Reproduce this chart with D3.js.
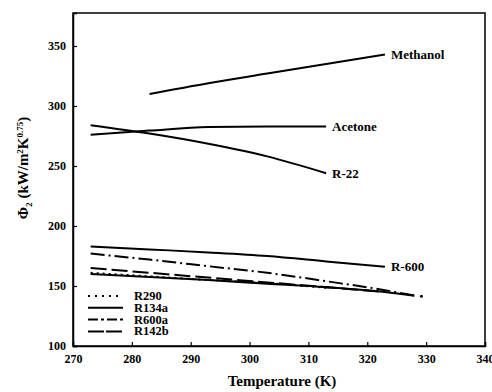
<!DOCTYPE html>
<html><head><meta charset="utf-8">
<script src="https://cdn.jsdelivr.net/npm/d3@7"></script>
<style>body{margin:0;background:#fff}</style>
</head><body><svg id="c" width="492" height="392"></svg>
<script>
const xTicks=[270,280,290,300,310,320,330,340];
const yTicks=[100,150,200,250,300,350];
const methanolT=[283,293,303,313,323];
const methanolV=[310,319,327,335,343];
const acetoneT=[273,283,293,303,313];
const acetoneV=[276,279.5,282.5,283,283];
const r22T=[273,283,293,303,313];
const r22V=[284,277,268.5,258,244];
const r600T=[273,283,293,303,313,323];
const r600V=[183,180.5,178,175,170.5,166];
const r600aT=[273,283,293,303,313,323,328];
const r600aV=[177,172,166.5,161,154,146.5,142];
const r142bT=[273,283,293,303,313,323];
const r142bV=[165,161,157,153,149,145];
const r290T=[273,283,293,303,313];
const r290V=[161,158,155,152.5,148.5];
const r134aT=[273,283,293,303,313,323,328];
const r134aV=[160,157.5,155,152,149,145,142];
const legendNames=["R290","R134a","R600a","R142b"];

const svg=d3.select("#c");
const x=d3.scaleLinear().domain([270,340]).range([73,485]);
const y=d3.scaleLinear().domain([100,377.5]).range([346,13]);
const font="'Liberation Serif','Times New Roman',serif";

svg.append("rect").attr("x",73).attr("y",13).attr("width",412).attr("height",333)
 .attr("fill","none").attr("stroke","#000").attr("stroke-width",1.5);

const xa=svg.append("g").attr("transform","translate(0,346)")
 .call(d3.axisBottom(x).tickValues(xTicks).tickFormat(d3.format("d")).tickSize(-4).tickPadding(8));
const ya=svg.append("g").attr("transform","translate(73,0)")
 .call(d3.axisLeft(y).tickValues(yTicks).tickFormat(d3.format("d")).tickSize(-4).tickPadding(7));
[xa,ya].forEach(a=>{a.select(".domain").attr("stroke","#000").attr("stroke-width",1.5);
 a.selectAll("line").attr("stroke","#000").attr("stroke-width",1.2);
 a.selectAll("text").attr("font-family",font).attr("font-weight","bold").attr("font-size",12).attr("fill","#000");});

const line=d3.line().x(d=>x(d[0])).y(d=>y(d[1])).curve(d3.curveMonotoneX);
function draw(T,V,dash,w){
 svg.append("path").attr("d",line(T.map((t,i)=>[t,V[i]]))).attr("fill","none")
  .attr("stroke","#000").attr("stroke-width",w||2).attr("stroke-dasharray",dash||null);
}
draw(methanolT,methanolV);
draw(acetoneT,acetoneV);
draw(r22T,r22V);
draw(r600T,r600V);
draw(r600aT,r600aV,"14,4,2,4");
draw(r142bT,r142bV,"16,5");
draw(r290T,r290V,"2,4");
draw(r134aT,r134aV,null,2.2);
svg.append("circle").attr("cx",x(329.2)).attr("cy",y(141.5)).attr("r",1.5).attr("fill","#000");

const lab=[["Methanol",323,343],["Acetone",313,283],["R-22",313,244],["R-600",323,166]];
lab.forEach(l=>svg.append("text").attr("x",x(l[1])+6).attr("y",y(l[2])+4.5)
 .attr("font-family",font).attr("font-weight","bold").attr("font-size",13).text(l[0]));

const dashes=["2,5","","10,3,3,3","16,2"];
legendNames.forEach((n,i)=>{
 const yy=296+i*11.8;
 svg.append("line").attr("x1",88).attr("x2",123).attr("y1",yy).attr("y2",yy)
  .attr("stroke","#000").attr("stroke-width",2).attr("stroke-dasharray",dashes[i]||null);
 svg.append("text").attr("x",134).attr("y",yy+4).attr("font-family",font).attr("font-weight","bold")
  .attr("font-size",12.5).text(n);
});

svg.append("text").attr("x",282).attr("y",386).attr("text-anchor","middle").attr("font-family",font)
 .attr("font-weight","bold").attr("font-size",15).text("Temperature (K)");
const yt=svg.append("text").attr("transform","translate(28,168) rotate(-90)").attr("text-anchor","middle")
 .attr("font-family",font).attr("font-weight","bold").attr("font-size",15);
yt.append("tspan").text("Φ");
yt.append("tspan").attr("font-size",9).attr("dy",4).text("2");
yt.append("tspan").attr("dy",-4).text(" (kW/m");
yt.append("tspan").attr("font-size",9).attr("dy",-5).text("2");
yt.append("tspan").attr("dy",5).text("K");
yt.append("tspan").attr("font-size",9).attr("dy",-5).text("0.75");
yt.append("tspan").attr("dy",5).text(")");
</script></body></html>
